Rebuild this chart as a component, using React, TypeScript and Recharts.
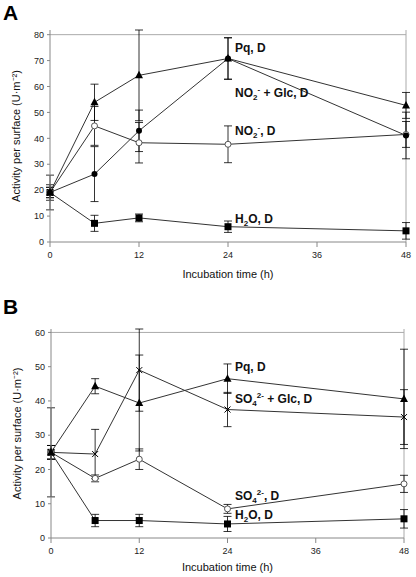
import React from "react";
import {
  ErrorBar,
  Line,
  LineChart,
  ReferenceLine,
  XAxis,
  YAxis,
} from "recharts";

const hours = [0, 6, 12, 24, 48];
const xTicks = [0, 12, 24, 36, 48];

// panel A
const pqA = [19.1, 53.9, 64.3, 70.8, 52.7];
const pqAErr = [2, 7, 17.5, 8, 5];
const no2GlcA = [19.1, 26.2, 42.9, 70.8, 41.1];
const no2GlcAErr = [6.7, 10.6, 8, 8, 9];
const no2A = [19.1, 44.8, 38.3, 37.7, 41.5];
const no2AErr = [3, 7.5, 7.8, 7.1, 5];
const h2oA = [19.1, 7.2, 9.3, 5.9, 4.3];
const h2oAErr = [2, 3.1, 1.5, 2.2, 3.2];
const yTicksA = [0, 10, 20, 30, 40, 50, 60, 70, 80];

// panel B
const pqB = [25, 44.3, 39.4, 46.5, 40.6];
const pqBErr = [2, 2.2, 14, 4.3, 14.5];
const so4GlcB = [25, 24.5, 49, 37.5, 35.3];
const so4GlcBErr = [13, 7.2, 12, 5, 8];
const so4B = [25, 17.4, 23, 8.5, 15.8];
const so4BErr = [2, 1, 3, 1.3, 2.5];
const h2oB = [25, 5.1, 5.1, 4.1, 5.6];
const h2oBErr = [2, 1.8, 1.8, 2.2, 2.7];
const yTicksB = [0, 10, 20, 30, 40, 50, 60];

const dataA = hours.map((t, i) => ({
  t,
  pq: pqA[i],
  pqErr: pqAErr[i],
  glc: no2GlcA[i],
  glcErr: no2GlcAErr[i],
  ion: no2A[i],
  ionErr: no2AErr[i],
  h2o: h2oA[i],
  h2oErr: h2oAErr[i],
}));

const dataB = hours.map((t, i) => ({
  t,
  pq: pqB[i],
  pqErr: pqBErr[i],
  glc: so4GlcB[i],
  glcErr: so4GlcBErr[i],
  ion: so4B[i],
  ionErr: so4BErr[i],
  h2o: h2oB[i],
  h2oErr: h2oBErr[i],
}));

const font = '"Liberation Sans", Arial, sans-serif';
const LINE = "#333";

const triangle = (p: any) => {
  const { cx, cy, index } = p;
  if (cx == null) return <g key={"tr" + index} />;
  return (
    <path
      key={"tr" + index}
      d={`M${cx},${cy - 4.5}L${cx + 4},${cy + 3}L${cx - 4},${cy + 3}Z`}
      fill="#000"
    />
  );
};
const square = (p: any) => {
  const { cx, cy, index } = p;
  if (cx == null) return <g key={"sq" + index} />;
  return <rect key={"sq" + index} x={cx - 3.5} y={cy - 3.5} width={7} height={7} fill="#000" />;
};
const dotFilled = (p: any) => {
  const { cx, cy, index } = p;
  if (cx == null) return <g key={"df" + index} />;
  return <circle key={"df" + index} cx={cx} cy={cy} r={3} fill="#000" />;
};
const dotOpen = (p: any) => {
  const { cx, cy, index } = p;
  if (cx == null) return <g key={"do" + index} />;
  return <circle key={"do" + index} cx={cx} cy={cy} r={3} fill="#fff" stroke="#555" strokeWidth={1} />;
};
const cross = (p: any) => {
  const { cx, cy, index } = p;
  if (cx == null) return <g key={"cr" + index} />;
  return (
    <path
      key={"cr" + index}
      d={`M${cx - 3},${cy - 3}L${cx + 3},${cy + 3}M${cx - 3},${cy + 3}L${cx + 3},${cy - 3}`}
      stroke="#000"
      strokeWidth={1}
    />
  );
};

const subStyle: React.CSSProperties = { fontSize: 8, verticalAlign: -3, lineHeight: 0 };
const supStyle: React.CSSProperties = { fontSize: 8, verticalAlign: 5, lineHeight: 0 };
const Sub = ({ children }: { children: React.ReactNode }) => <span style={subStyle}>{children}</span>;
const Sup = ({ children }: { children: React.ReactNode }) => <span style={supStyle}>{children}</span>;

const Tag = ({ y, children }: { y: number; children: React.ReactNode }) => (
  <div
    style={{
      position: "absolute",
      left: 235,
      top: y,
      transform: "translateY(-50%)",
      font: `bold 12px ${font}`,
      lineHeight: "14px",
      whiteSpace: "nowrap",
      color: "#111",
    }}
  >
    {children}
  </div>
);

type PanelProps = {
  data: any[];
  top: number;
  height: number;
  margin: { top: number; right: number; bottom: number; left: number };
  yMax: number;
  yTicks: number[];
  xAxisHeight: number;
  glcDot: (p: any) => React.ReactElement;
  ionDot: (p: any) => React.ReactElement;
};

function Panel(props: PanelProps) {
  const { data, top, height, margin, yMax, yTicks, xAxisHeight, glcDot, ionDot } = props;
  const eb = { width: 4, stroke: "#000", strokeWidth: 0.8 };
  return (
    <div style={{ position: "absolute", left: 0, top }}>
      <LineChart width={416} height={height} data={data} margin={margin}>
        <XAxis
          dataKey="t"
          type="number"
          domain={[0, 48]}
          ticks={xTicks}
          height={xAxisHeight}
          stroke="#888"
          tickSize={5}
          tickMargin={5}
          tick={{ fontSize: 9, fill: "#222", fontFamily: font }}
          label={{
            value: "Incubation time (h)",
            position: "insideBottom",
            offset: 4,
            style: { fontSize: 11, fill: "#111", fontFamily: font },
          }}
        />
        <YAxis
          type="number"
          domain={[0, yMax]}
          ticks={yTicks}
          width={40}
          stroke="#888"
          tickSize={3}
          tickMargin={3}
          tick={{ fontSize: 9, fill: "#222", fontFamily: font }}
          label={{
            value: "Activity per surface (U·m⁻²)",
            angle: -90,
            position: "insideLeft",
            offset: 6,
            style: { fontSize: 11, fill: "#111", fontFamily: font, textAnchor: "middle" },
          }}
        />
        <ReferenceLine y={yMax} stroke="#aaa" />
        <ReferenceLine x={48} stroke="#aaa" />
        <Line dataKey="h2o" stroke={LINE} strokeWidth={1} dot={square} isAnimationActive={false}>
          <ErrorBar dataKey="h2oErr" direction="y" {...eb} />
        </Line>
        <Line dataKey="ion" stroke={LINE} strokeWidth={1} dot={ionDot} isAnimationActive={false}>
          <ErrorBar dataKey="ionErr" direction="y" {...eb} />
        </Line>
        <Line dataKey="glc" stroke={LINE} strokeWidth={1} dot={glcDot} isAnimationActive={false}>
          <ErrorBar dataKey="glcErr" direction="y" {...eb} />
        </Line>
        <Line dataKey="pq" stroke={LINE} strokeWidth={1} dot={triangle} isAnimationActive={false}>
          <ErrorBar dataKey="pqErr" direction="y" {...eb} />
        </Line>
      </LineChart>
    </div>
  );
}

export default function App() {
  return (
    <div
      style={{
        position: "absolute",
        left: 0,
        top: 0,
        width: 416,
        height: 577,
        background: "#fff",
        fontFamily: font,
        overflow: "hidden",
      }}
    >
      <Panel
        data={dataA}
        top={0}
        height={290}
        margin={{ top: 30, right: 10, bottom: 8, left: 10 }}
        yMax={80}
        yTicks={yTicksA}
        xAxisHeight={40}
        glcDot={dotFilled}
        ionDot={dotOpen}
      />
      <Panel
        data={dataB}
        top={290}
        height={287}
        margin={{ top: 39, right: 12, bottom: 2, left: 11 }}
        yMax={60}
        yTicks={yTicksB}
        xAxisHeight={37}
        glcDot={cross}
        ionDot={dotOpen}
      />

      <div style={{ position: "absolute", left: 3, top: 1, font: `bold 21px ${font}` }}>A</div>
      <div style={{ position: "absolute", left: 3, top: 295, font: `bold 21px ${font}` }}>B</div>

      <Tag y={48}>Pq, D</Tag>
      <Tag y={93}>
        NO<Sub>2</Sub><Sup>-</Sup> + Glc, D
      </Tag>
      <Tag y={131}>
        NO<Sub>2</Sub><Sup>-</Sup>, D
      </Tag>
      <Tag y={219}>
        H<Sub>2</Sub>O, D
      </Tag>

      <Tag y={367}>Pq, D</Tag>
      <Tag y={399}>
        SO<Sub>4</Sub><Sup>2-</Sup> + Glc, D
      </Tag>
      <Tag y={496}>
        SO<Sub>4</Sub><Sup>2-</Sup>, D
      </Tag>
      <Tag y={515}>
        H<Sub>2</Sub>O, D
      </Tag>
    </div>
  );
}
